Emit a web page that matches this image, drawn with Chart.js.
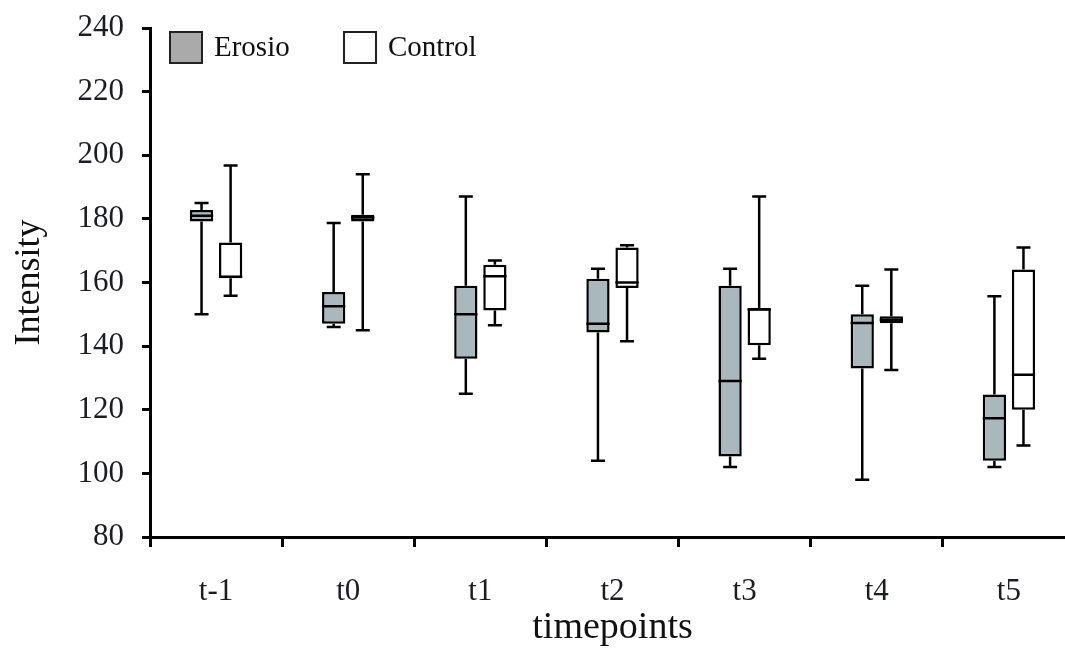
<!DOCTYPE html>
<html>
<head>
<meta charset="utf-8">
<script src="https://cdn.jsdelivr.net/npm/chart.js@4/dist/chart.umd.min.js"></script>
<style>
  html, body { margin: 0; padding: 0; background: #fff; overflow: hidden; }
  #wrap { width: 1080px; height: 655px; }
</style>
</head>
<body>
<div id="wrap"><canvas id="mycanvas" width="1080" height="655"></canvas></div>
<script>
var categories = ['t-1', 't0', 't1', 't2', 't3', 't4', 't5'];
var yTicks = [80, 100, 120, 140, 160, 180, 200, 220, 240];

// Erosio
var erosioMin    = [150, 146, 125, 104, 102, 98, 102];
var erosioQ1     = [179.2, 147, 136, 144.3, 105.3, 133, 104];
var erosioMedian = [181, 152.5, 150, 147, 129, 147.3, 117.3];
var erosioQ3     = [182.8, 157, 159, 161.2, 159, 150, 124.8];
var erosioMax    = [185, 178.7, 187, 164.3, 164.3, 159, 155.7];

// Control
var controlMin    = [155.8, 145, 146.6, 141.5, 136, 132.5, 108.8];
var controlQ1     = [161.3, 179.2, 151.2, 158.3, 140.3, 147.2, 120];
var controlMedian = [161.8, 180.4, 162, 160, 151.5, 148.3, 131];
var controlQ3     = [172.6, 181.3, 165.6, 171, 152, 149.4, 164.1];
var controlMax    = [196.8, 194, 166.9, 171.7, 187, 164.1, 171];

var serif = "'Liberation Serif', 'Times New Roman', serif";

function boxes(q1, q3) {
  var out = [];
  for (var i = 0; i < q1.length; i++) out.push([q1[i], q3[i]]);
  return out;
}

// whiskers + median lines, positioned from the bar elements and the y scale
var whiskerPlugin = {
  id: 'whiskers',
  afterDatasetsDraw: function(chart) {
    var ctx = chart.ctx;
    var y = chart.scales.y;
    ctx.save();
    ctx.strokeStyle = '#000';
    ctx.lineWidth = 2.5;
    chart.data.datasets.forEach(function(ds, di) {
      var meta = chart.getDatasetMeta(di);
      meta.data.forEach(function(bar, i) {
        var x = bar.x, half = bar.width / 2, cap = 7;
        var yMax = y.getPixelForValue(ds.whiskerMax[i]);
        var yMin = y.getPixelForValue(ds.whiskerMin[i]);
        var yQ3 = y.getPixelForValue(ds.data[i][1]);
        var yQ1 = y.getPixelForValue(ds.data[i][0]);
        var yMed = y.getPixelForValue(ds.median[i]);
        ctx.beginPath();
        ctx.moveTo(x, yQ3); ctx.lineTo(x, yMax);
        ctx.moveTo(x - cap, yMax); ctx.lineTo(x + cap, yMax);
        ctx.moveTo(x, yQ1); ctx.lineTo(x, yMin);
        ctx.moveTo(x - cap, yMin); ctx.lineTo(x + cap, yMin);
        ctx.moveTo(x - half, yMed); ctx.lineTo(x + half, yMed);
        ctx.stroke();
      });
    });
    ctx.restore();
  }
};

// horizontal legend inside the plot, top left
var legendPlugin = {
  id: 'boxLegend',
  afterDraw: function(chart) {
    var ctx = chart.ctx;
    var left = chart.chartArea.left + 20;
    var top = chart.chartArea.top + 4;
    var offsets = [0, 174];
    ctx.save();
    ctx.font = '29px ' + serif;
    ctx.textBaseline = 'middle';
    chart.data.datasets.forEach(function(ds, i) {
      var x = left + offsets[i];
      ctx.fillStyle = ds.legendFill;
      ctx.fillRect(x, top, 32, 31);
      ctx.strokeStyle = '#222';
      ctx.lineWidth = 2;
      ctx.strokeRect(x, top, 32, 31);
      ctx.fillStyle = '#111';
      ctx.fillText(ds.label, x + 44, top + 16);
    });
    ctx.restore();
  }
};

var ctx = document.getElementById('mycanvas');

var boxChart = new Chart(ctx, {
  type: 'bar',
  data: {
    labels: categories,
    datasets: [
      {
        label: 'Erosio',
        data: boxes(erosioQ1, erosioQ3),
        median: erosioMedian,
        whiskerMin: erosioMin,
        whiskerMax: erosioMax,
        backgroundColor: '#a9b8bd',
        borderColor: '#000',
        borderWidth: 2.5,
        borderSkipped: false,
        legendFill: '#aaaaaa'
      },
      {
        label: 'Control',
        data: boxes(controlQ1, controlQ3),
        median: controlMedian,
        whiskerMin: controlMin,
        whiskerMax: controlMax,
        backgroundColor: '#ffffff',
        borderColor: '#000',
        borderWidth: 2.5,
        borderSkipped: false,
        legendFill: '#ffffff'
      }
    ]
  },
  options: {
    responsive: false,
    animation: false,
    categoryPercentage: 0.44,
    barPercentage: 0.8,
    layout: { padding: { top: 28, right: 5, left: 0, bottom: 0 } },
    plugins: {
      tooltip: { enabled: false },
      legend: { display: false }
    },
    scales: {
      x: {
        grid: { drawOnChartArea: false, drawTicks: true, tickLength: 10, color: '#000', lineWidth: 3 },
        border: { display: true, color: '#000', width: 3 },
        ticks: { color: '#1c1c24', padding: 26, font: { family: serif, size: 31 } },
        title: { display: true, text: 'timepoints', color: '#111', padding: { top: 12 }, font: { family: serif, size: 38 } },
        afterFit: function(scale) { scale.height = 118; }
      },
      y: {
        min: 80,
        max: 240,
        afterBuildTicks: function(scale) {
          scale.ticks = yTicks.map(function(v) { return { value: v }; });
        },
        grid: { drawOnChartArea: false, drawTicks: true, tickLength: 8, color: '#000', lineWidth: 3 },
        border: { display: true, color: '#000', width: 3 },
        ticks: { color: '#1c1c24', padding: 18, font: { family: serif, size: 31 } },
        title: { display: true, text: 'Intensity', color: '#111', padding: { top: 8, bottom: 2 }, font: { family: serif, size: 36 } },
        afterFit: function(scale) {
          scale.width = 150;
          // the big tick padding would otherwise push the plot top down
          scale.paddingTop = 10;
          scale.paddingBottom = 10;
        }
      }
    }
  },
  plugins: [whiskerPlugin, legendPlugin]
});
</script>
</body>
</html>
